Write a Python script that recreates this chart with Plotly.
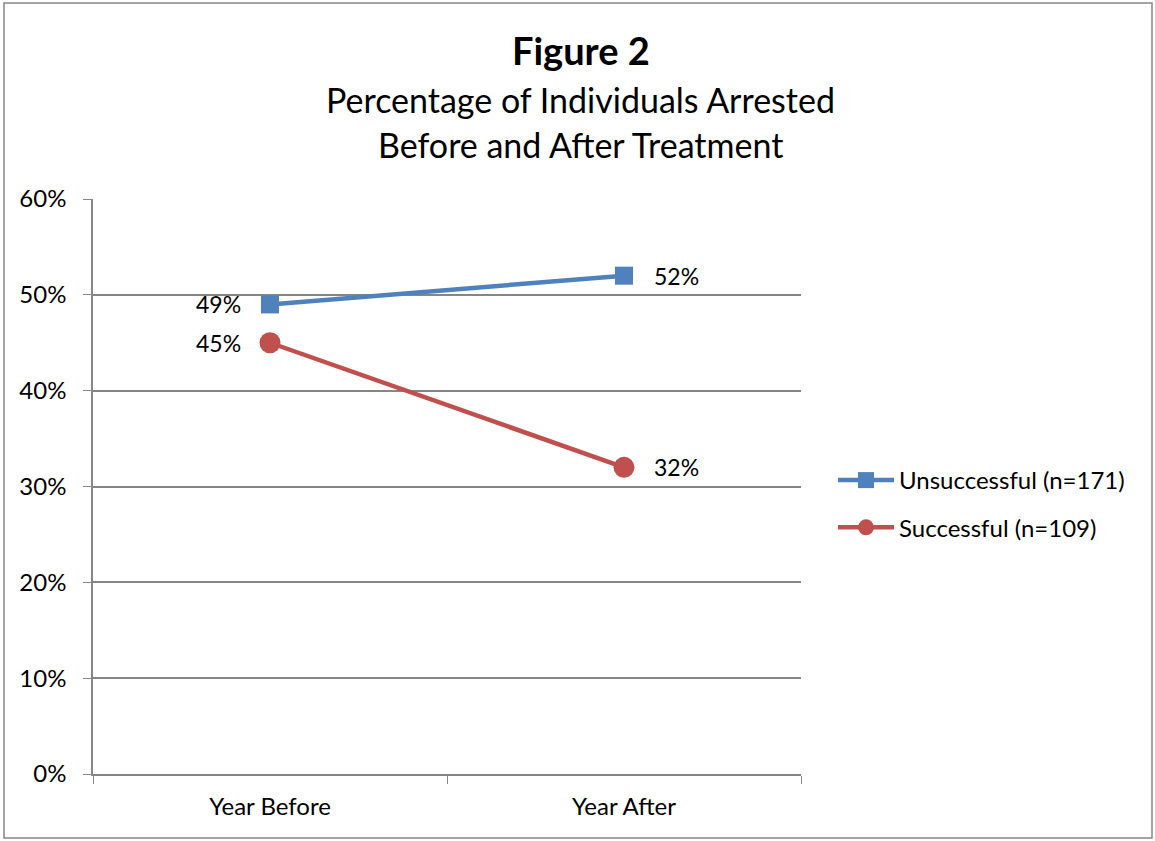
import plotly.graph_objects as go

categories = ["Year Before", "Year After"]
unsuccessful = [49, 52]
successful = [45, 32]
series_names = ["Unsuccessful (n=171)", "Successful (n=109)"]
y_ticks = [0, 10, 20, 30, 40, 50, 60]

FONT = "Lato, 'Open Sans', sans-serif"
L, R, T, B = 93, 354, 199, 67
W, H = 1155, 841
pw, ph = W - L - R, H - T - B

def px_x(x):
    return (x - L) / pw

def px_y(y):
    return (H - B - y) / ph

fig = go.Figure()
fig.add_trace(go.Scatter(
    x=categories, y=unsuccessful, name=series_names[0], legendgroup="a",
    mode="lines+markers",
    line=dict(color="#4F81BD", width=4.5),
    marker=dict(symbol="square", size=18, color="#4F81BD"),
    cliponaxis=False,
))
fig.add_trace(go.Scatter(
    x=categories, y=successful, name=series_names[1], legendgroup="b",
    mode="lines+markers",
    line=dict(color="#C0504D", width=4.5),
    marker=dict(symbol="circle", size=21, color="#C0504D"),
    cliponaxis=False,
))

annotations = []
for series in (unsuccessful, successful):
    for i, (cat, v) in enumerate(zip(categories, series)):
        annotations.append(dict(
            x=cat, y=v, xref="x", yref="y", text=f"{v}%", showarrow=False,
            xanchor="right" if i == 0 else "left", yanchor="middle",
            xshift=-27 if i == 0 else 28,
            font=dict(size=23, family=FONT, color="#000000"),
        ))

annotations += [
    dict(text="<b>Figure 2</b>", x=px_x(581), y=px_y(50), xref="paper", yref="paper",
         showarrow=False, font=dict(size=38, family=FONT), xanchor="center", yanchor="middle"),
    dict(text="Percentage of Individuals Arrested", x=px_x(580), y=px_y(100), xref="paper", yref="paper",
         showarrow=False, font=dict(size=34, family=FONT), xanchor="center", yanchor="middle"),
    dict(text="Before and After Treatment", x=px_x(580), y=px_y(145), xref="paper", yref="paper",
         showarrow=False, font=dict(size=34, family=FONT), xanchor="center", yanchor="middle"),
]

fig.update_layout(
    width=W, height=H,
    margin=dict(l=L, r=R, t=T, b=B),
    paper_bgcolor="white", plot_bgcolor="white",
    font=dict(family=FONT, size=24, color="#000000"),
    showlegend=True,
    legend=dict(x=px_x(833), y=px_y(458), xanchor="left", yanchor="top",
                font=dict(size=24, family=FONT), traceorder="grouped", tracegroupgap=13,
                itemwidth=56, bgcolor="rgba(0,0,0,0)"),
    xaxis=dict(
        type="category", range=[-0.5, 1.5],
        showline=True, linecolor="#868686", linewidth=1.5,
        ticks="outside", tickson="boundaries", ticklen=8, tickcolor="#868686",
        showgrid=False, tickfont=dict(size=24, family=FONT), ticklabelstandoff=10,
    ),
    yaxis=dict(
        range=[0, 60], tickvals=y_ticks, ticktext=[f"{v}%" for v in y_ticks],
        showline=True, linecolor="#868686", linewidth=1.5,
        ticks="outside", ticklen=8, tickcolor="#868686",
        showgrid=True, gridcolor="#868686", gridwidth=1.5,
        zeroline=False, tickfont=dict(size=24, family=FONT), ticklabelstandoff=12,
    ),
    annotations=annotations,
    shapes=[
        dict(type="rect", xref="paper", yref="paper",
             x0=px_x(4), x1=px_x(1152), y0=px_y(838), y1=px_y(3),
             line=dict(color="#868686", width=1.5), fillcolor="rgba(0,0,0,0)", layer="below"),
    ],
)

fig.write_html("out.html")
